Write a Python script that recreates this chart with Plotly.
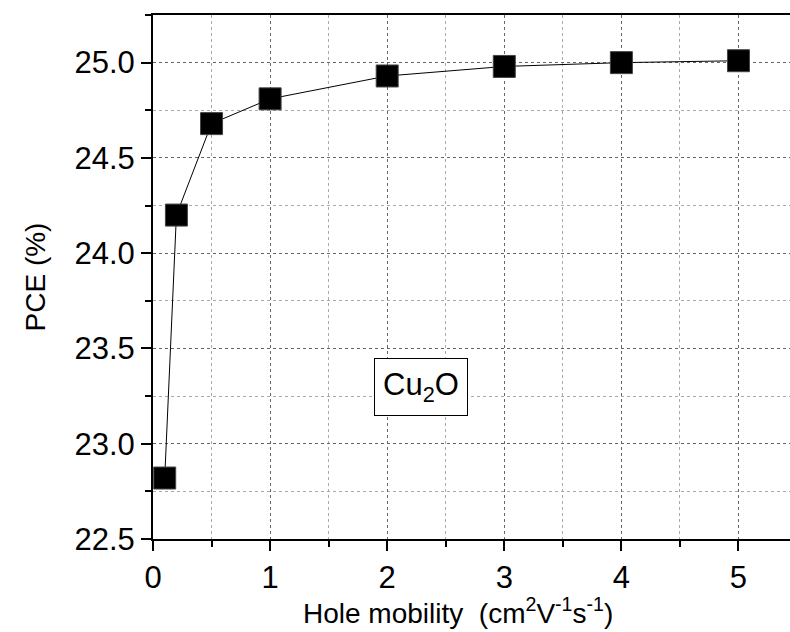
import plotly.graph_objects as go

mobility = [0.1, 0.2, 0.5, 1, 2, 3, 4, 5]
pce = [22.82, 24.20, 24.68, 24.81, 24.93, 24.98, 25.00, 25.01]
x_ticks = [0, 1, 2, 3, 4, 5]
y_ticks = [22.5, 23.0, 23.5, 24.0, 24.5, 25.0]
label_text = "Cu<sub>2</sub>O"
x_title = "Hole mobility  (cm<sup>2</sup>V<sup>-1</sup>s<sup>-1</sup>)"
y_title = "PCE (%)"

font_family = "Liberation Sans, Arial, sans-serif"

fig = go.Figure()
fig.add_trace(go.Scatter(
    x=mobility, y=pce, mode="lines+markers",
    line=dict(color="black", width=1),
    marker=dict(symbol="square", size=22, color="black",
                line=dict(color="#444444", width=1)),
    showlegend=False,
))

fig.add_annotation(
    x=2.29, y=23.30, xref="x", yref="y", text=label_text, showarrow=False,
    font=dict(family=font_family, size=31, color="black"),
    bordercolor="black", borderwidth=1, borderpad=8, bgcolor="white",
)

# x-axis title (placed as an annotation to match the reference position)
fig.add_annotation(
    x=0.479, y=-0.137, xref="paper", yref="paper", text=x_title, showarrow=False,
    xanchor="center", yanchor="middle",
    font=dict(family=font_family, size=28, color="black"),
)

axis_common = dict(
    showline=True, linecolor="black", linewidth=2,
    ticks="outside", ticklen=10, tickwidth=2, tickcolor="black",
    tickfont=dict(family=font_family, size=31, color="black"),
    showgrid=True, gridcolor="#666666", griddash="dot", gridwidth=1,
    zeroline=False,
)

fig.update_xaxes(
    **axis_common,
    range=[0, 5.44], tickvals=x_ticks, ticktext=[str(v) for v in x_ticks],
    mirror=True,
    minor=dict(dtick=0.5, ticks="outside", ticklen=6, tickwidth=2, tickcolor="black",
               showgrid=True, gridcolor="#aaaaaa", griddash="dot", gridwidth=1),
)
fig.update_yaxes(
    **axis_common,
    range=[22.5, 25.25], tickvals=y_ticks, ticktext=[f"{v:.1f}" for v in y_ticks],
    minor=dict(dtick=0.25, ticks="outside", ticklen=6, tickwidth=2, tickcolor="black",
               showgrid=True, gridcolor="#aaaaaa", griddash="dot", gridwidth=1),
    title=dict(text=y_title, font=dict(family=font_family, size=28, color="black"),
               standoff=21),
)

fig.update_layout(
    width=790, height=632,
    margin=dict(l=153, r=0, t=15, b=93),
    plot_bgcolor="white", paper_bgcolor="white",
)

fig.write_html("out.html")
